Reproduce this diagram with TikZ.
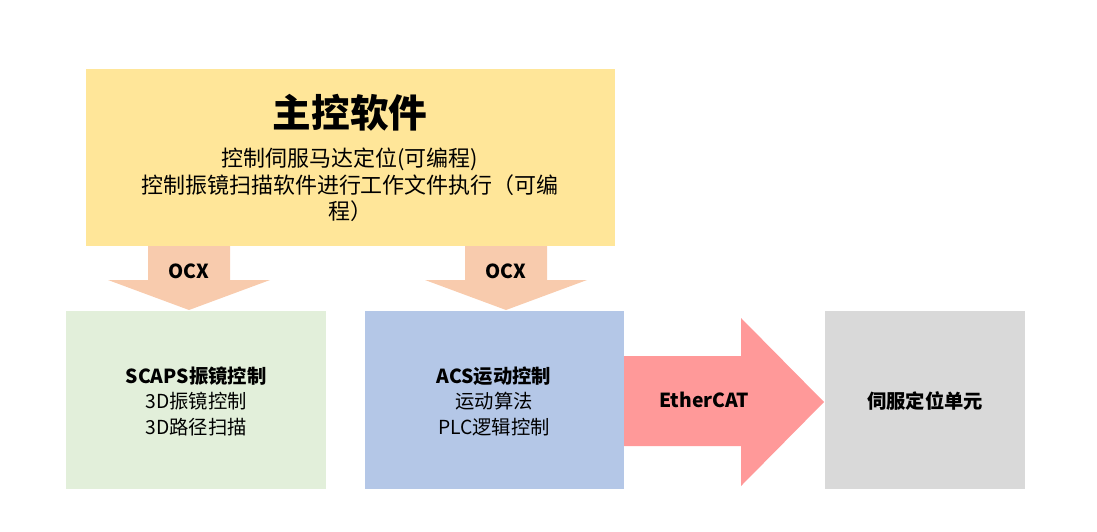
\documentclass[tikz,border=0pt]{standalone}
\usepackage{fontspec}
\setmainfont{Noto Sans CJK SC}
\usetikzlibrary{positioning}
\definecolor{mainfill}{HTML}{FFE699}
\definecolor{ocxfill}{HTML}{F8CBAD}
\definecolor{scapsfill}{HTML}{E2EFDA}
\definecolor{acsfill}{HTML}{B4C7E7}
\definecolor{ecatfill}{HTML}{FF9999}
\definecolor{servofill}{HTML}{D9D9D9}
\begin{document}
\begin{tikzpicture}[x=0.02cm,y=-0.02cm]
    \tikzstyle{boxtxt}=[align=center,font=\fontsize{11}{14.5}\selectfont]
    \tikzstyle{arrtxt}=[font=\fontsize{11}{13}\selectfont\bfseries]
    \useasboundingbox (0,0) rectangle (1097,531);

    % main box
    \fill[mainfill] (86,69) rectangle (615,246);
    \node (title) at (350,113) {\fontsize{22}{26}\selectfont\bfseries 主控软件};
    \node[align=center,font=\fontsize{12.5}{15}\selectfont] (maintxt) at (350,185)
        {控制伺服马达定位(可编程)\\控制振镜扫描软件进行工作文件执行（可编\\程）};

    % OCX arrows
    \foreach \x in {189, 506} {
        \fill[ocxfill] (\x-41,246) -- (\x+41,246) -- (\x+41,280) -- (\x+81,280)
            -- (\x,310) -- (\x-81,280) -- (\x-41,280) -- cycle;
    }
    \node[arrtxt] (ocxa) at (189,271) {OCX};
    \node[arrtxt] (ocxb) at (506,271) {OCX};

    % lower boxes
    \fill[scapsfill] (66,311) rectangle (326,489);
    \node[boxtxt] (scaps) at (196,401) {\textbf{SCAPS振镜控制}\\3D振镜控制\\3D路径扫描};
    \fill[acsfill] (365,311) rectangle (624,489);
    \node[boxtxt] (acs) at (494,401) {\textbf{ACS运动控制}\\运动算法\\PLC逻辑控制};

    % EtherCAT arrow
    \fill[ecatfill] (624,356) -- (741,356) -- (741,318) -- (824,402)
        -- (741,486) -- (741,446) -- (624,446) -- cycle;
    \node[arrtxt] (ecat) at (704,400) {EtherCAT};

    \fill[servofill] (825,311) rectangle (1025,489);
    \node[boxtxt] (servo) at (925,401) {\textbf{伺服定位单元}};
\end{tikzpicture}
\end{document}
